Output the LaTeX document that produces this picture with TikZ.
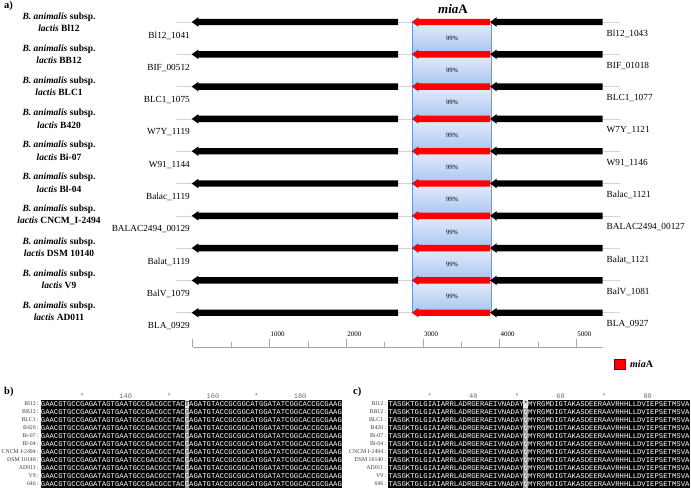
\documentclass[tikz,border=0pt]{standalone}
\usepackage{fontspec}
\setmainfont{Liberation Serif}
\newfontfamily\seqfont{Liberation Mono}
\definecolor{boxtop}{RGB}{228,237,251}
\definecolor{boxbot}{RGB}{168,196,240}
\definecolor{boxedge}{RGB}{110,150,210}
\definecolor{gridgrey}{RGB}{212,212,212}
\definecolor{hlgrey}{RGB}{150,150,150}
\definecolor{labgrey}{RGB}{60,60,60}
\definecolor{headgrey}{RGB}{110,110,110}
\newcommand\mygenearrow[4]{%
  \fill[#4] (#1,#3) -- (#1+6.7,#3-4.8) -- (#1+6.7,#3-3.2) -- (#2,#3-3.2) -- (#2,#3+3.2) -- (#1+6.7,#3+3.2) -- (#1+6.7,#3+4.8) -- cycle;}
\newcommand\seqsize{\fontsize{7.27}{8}\selectfont}
\begin{document}
\begin{tikzpicture}[x=1pt,y=-1pt,
  gridline/.style={draw=gridgrey,line width=0.6pt},
  strainlab/.style={align=center,inner sep=0,font=\fontsize{9.5}{12.4}\selectfont\bfseries},
  genelabL/.style={anchor=east,inner sep=0,font=\fontsize{9.3}{11}\selectfont},
  genelabR/.style={anchor=west,inner sep=0,font=\fontsize{9.3}{11}\selectfont},
  pct/.style={inner sep=0,font=\fontsize{6.5}{7}\selectfont},
  scalelab/.style={anchor=base west,inner sep=0,font=\fontsize{7}{8}\selectfont},
  panellab/.style={anchor=west,inner sep=0,font=\fontsize{10.5}{12}\selectfont\bfseries},
  rowlab/.style={anchor=east,inner sep=0,font=\fontsize{5.8}{6}\selectfont,text=labgrey},
  seqtext/.style={anchor=base west,inner sep=0,font=\seqfont\seqsize,text=white},
  headlab/.style={inner sep=0,font=\seqfont\fontsize{7}{7}\selectfont,text=headgrey}
]
\useasboundingbox (0,0) rectangle (691,488);

% ---------- panel a ----------
\node[panellab] (pa) at (4,6) {a)};

\foreach \i/\s in {0/Bl12,1/BB12,2/BLC1,3/B420,4/Bi-07,5/Bl-04,6/CNCM\_I-2494,7/DSM 10140,8/V9,9/AD011}{
  \pgfmathsetmacro\yy{22.3+32.1*\i}
  \node[strainlab] (strain\i) at (59,\yy) {\textit{B. animalis} subsp.\\\textit{lactis} \s};
}

\foreach \i in {0,...,9}{
  \pgfmathsetmacro\yy{22+32.3*\i}
  \draw[gridline] (176,\yy) -- (620,\yy);
}

\foreach \i in {0,...,8}{
  \pgfmathsetmacro\ya{22+32.3*\i}
  \pgfmathsetmacro\yb{22+32.3*(\i+1)}
  \shade[top color=boxtop,bottom color=boxbot] (412.3,\ya) rectangle (491,\yb);
  \pgfmathsetmacro\ym{(\ya+\yb)/2}
  \node[pct] (pct\i) at (452,\ym) {99\%};
}
\draw[boxedge,line width=0.6pt] (412.3,22) -- (412.3,312.7);
\draw[boxedge,line width=0.6pt] (491,22) -- (491,312.7);

\foreach \i in {0,...,9}{
  \pgfmathsetmacro\yy{22+32.3*\i}
  \mygenearrow{191.7}{398}{\yy}{black}
  \mygenearrow{411.7}{490}{\yy}{red}
  \mygenearrow{490}{602.7}{\yy}{black}
}

\node[inner sep=0,font=\fontsize{13}{14}\selectfont\bfseries] (title) at (453,9.5) {\textit{mia}A};

\foreach \i/\gl/\gr in {0/Bl12\_1041/Bl12\_1043,1/BIF\_00512/BIF\_01018,2/BLC1\_1075/BLC1\_1077,3/W7Y\_1119/W7Y\_1121,4/W91\_1144/W91\_1146,5/Balac\_1119/Balac\_1121,6/BALAC2494\_00129/BALAC2494\_00127,7/Balat\_1119/Balat\_1121,8/BalV\_1079/BalV\_1081,9/BLA\_0929/BLA\_0927}{
  \pgfmathsetmacro\yl{22+32.3*\i+13.6}
  \pgfmathsetmacro\yr{22+32.3*\i+11.6}
  \node[genelabL] (gl\i) at (190,\yl) {\gl};
  \node[genelabR] (gr\i) at (606.5,\yr) {\gr};
}

% scale
\draw[draw=gray!70,line width=0.5pt] (192.7,347.3) -- (603,347.3);
\foreach \k in {0,...,5}{
  \draw[draw=gray!70,line width=0.5pt] (192.7+76.7*\k,338.5) -- (192.7+76.7*\k,347.3);
}
\foreach \k in {0,...,4}{
  \draw[draw=gray!70,line width=0.5pt] (192.7+76.7*\k+38.35,341.8) -- (192.7+76.7*\k+38.35,347.3);
}
\foreach \k in {1,...,5}{
  \node[scalelab] (sc\k) at (192.7+76.7*\k+1,336.6) {\k000};
}

% legend
\draw[fill=red,draw=red!45!black,line width=0.5pt] (614.3,359.3) rectangle (625.7,369.3);
\node[anchor=west,inner sep=0,font=\fontsize{10}{12}\selectfont\bfseries] (leg) at (630,364.3) {\textit{mia}A};

% ---------- panel b ----------
\node[panellab] (pb) at (4,391.5) {b)};
\fill[black] (40.7,400) rectangle (341.5,488);
\fill[hlgrey] (40.7+33*4.36,400) rectangle (40.7+34*4.36,488);
\fill[gray!20] (40.7+33*4.36,400) rectangle (40.7+34*4.36,408);
\foreach \idx/\t in {9/*,19/140,29/*,39/160,49/*,59/180}{
  \node[headlab] (bh\idx) at (40.7+\idx*4.36+2.18,396) {\t};
}
\foreach \i/\lab in {0/Bl12,1/BB12,2/BLC1,3/B420,4/Bi-07,5/Bl-04,6/CNCM I-2494,7/DSM 10140,8/AD011,9/V9,10/646}{
  \pgfmathsetmacro\yy{404+8*\i}
  \node[rowlab] (bl\i) at (39,\yy) {\lab\ :};
  \node[seqtext] (bs\i) at (40.7,\yy+2.5) {GAACGTGCCGAGATAGTGAATGCCGACGCCTAC\ifnum\i=0 \textcolor{black}{T}\else C\fi AGATGTACCGCGGCATGGATATCGGCACCGCGAAG};
}

% ---------- panel c ----------
\node[panellab] (pc) at (353,391.5) {c)};
\fill[black] (388.3,400) rectangle (689.5,488);
\fill[hlgrey] (388.3+31*4.36,400) rectangle (388.3+32*4.36,488);
\fill[gray!20] (388.3+31*4.36,400) rectangle (388.3+32*4.36,408);
\foreach \idx/\t in {9/*,19/40,29/*,39/60,49/*,59/80}{
  \node[headlab] (ch\idx) at (388.3+\idx*4.36+2.18,396) {\t};
}
\foreach \i/\lab in {0/Bl12,1/BB12,2/BLC1,3/B420,4/Bi-07,5/Bl-04,6/CNCM I-2494,7/DSM 10140,8/AD011,9/V9,10/646}{
  \pgfmathsetmacro\yy{404+8*\i}
  \node[rowlab] (cl\i) at (386.5,\yy) {\lab\ :};
  \node[seqtext] (cs\i) at (388.3,\yy+2.5) {TASGKTGLGIAIARRLADRGERAEIVNADAY\ifnum\i=0 \textcolor{black}{*}\else Q\fi MYRGMDIGTAKASDEERAAVRHHLLDVIEPSETMSVA};
}
\end{tikzpicture}
\end{document}
